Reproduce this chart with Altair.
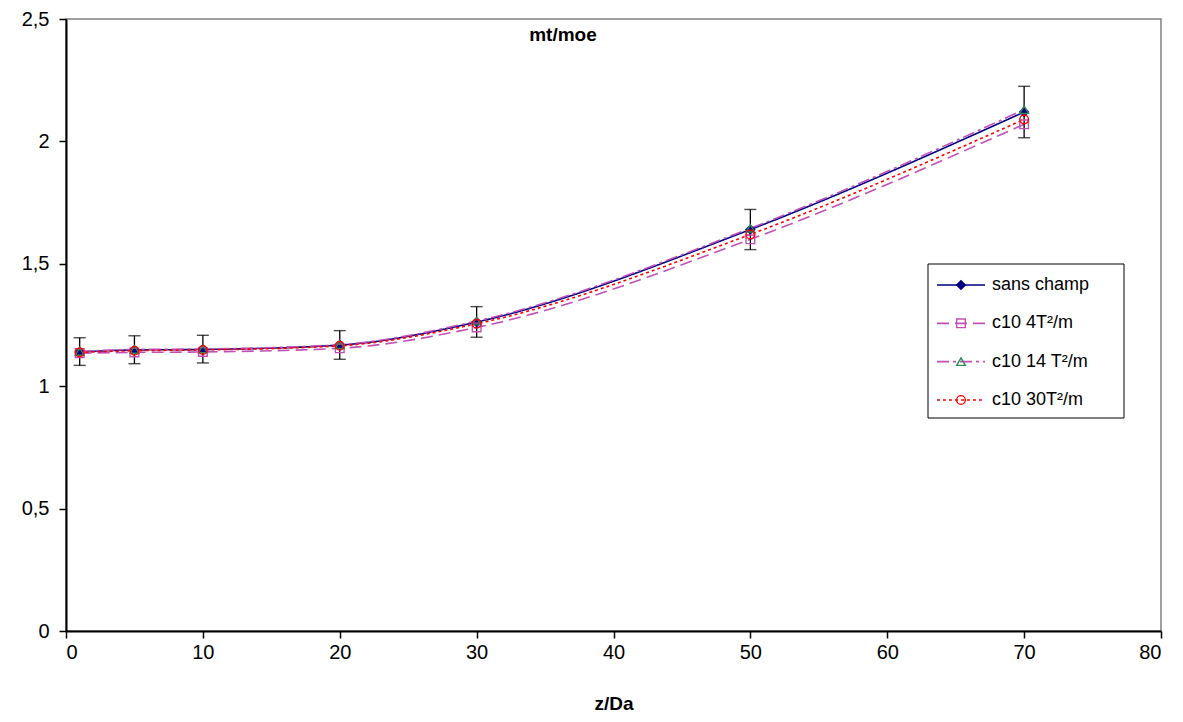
import altair as alt
import pandas as pd

# ---- data ----
z = [1, 5, 10, 20, 30, 50, 70]
series_names = ["sans champ", "c10 4T²/m", "c10 14 T²/m", "c10 30T²/m"]
sans_champ = [1.140, 1.148, 1.150, 1.168, 1.262, 1.640, 2.120]
c10_4T = [1.135, 1.138, 1.140, 1.155, 1.240, 1.600, 2.070]
c10_14T = [1.142, 1.150, 1.152, 1.170, 1.266, 1.645, 2.130]
c10_30T = [1.138, 1.145, 1.148, 1.165, 1.255, 1.620, 2.090]
err_low = [1.085, 1.092, 1.095, 1.110, 1.200, 1.558, 2.015]
err_high = [1.198, 1.206, 1.208, 1.227, 1.325, 1.722, 2.225]

y_ticks = [0, 0.5, 1, 1.5, 2, 2.5]
x_ticks = [0, 10, 20, 30, 40, 50, 60, 70, 80]

line_colors = ["#000080", "#C050B8", "#C050B8", "#FF0000"]
marker_colors = ["#000080", "#C050B8", "#2E8B57", "#FF0000"]
marker_fills = ["#000080", "transparent", "transparent", "transparent"]
shapes = ["diamond", "square", "triangle-up", "circle"]
dashes = [[1, 0], [12, 6], [12, 4, 3, 4], [3, 3]]

rows = []
for name, vals in zip(series_names, [sans_champ, c10_4T, c10_14T, c10_30T]):
    for xv, yv in zip(z, vals):
        rows.append({"series": name, "z": xv, "v": yv})
df = pd.DataFrame(rows)
err_df = pd.DataFrame({"z": z, "lo": err_low, "hi": err_high})
leg_df = pd.DataFrame({"series": series_names})

W, H = 1095, 612
FONT = "Liberation Sans"

xscale = alt.Scale(domain=[0, 80], nice=False)
yscale = alt.Scale(domain=[0, 2.5], nice=False)
col = alt.Color("series:N", scale=alt.Scale(domain=series_names, range=line_colors), legend=None)
dash = alt.StrokeDash("series:N", scale=alt.Scale(domain=series_names, range=dashes), legend=None)
mcol = alt.Stroke("series:N", scale=alt.Scale(domain=series_names, range=marker_colors), legend=None)
mfill = alt.Fill("series:N", scale=alt.Scale(domain=series_names, range=marker_fills), legend=None)
shp = alt.Shape("series:N", scale=alt.Scale(domain=series_names, range=shapes), legend=None)

base = alt.Chart(df)

X = alt.X("z:Q", scale=xscale, title="z/Da",
          axis=alt.Axis(values=x_ticks, grid=False, tickSize=7, labelPadding=4,
                        titlePadding=32, labelFontSize=20, titleFontSize=19,
                        titleFontWeight="bold"))
Y = alt.Y("v:Q", scale=yscale, title=None,
          axis=alt.Axis(values=y_ticks, grid=False, tickSize=7, labelPadding=10,
                        labelFontSize=20,
                        labelExpr="replace(format(datum.value, ''), '.', ',')"))

lines = base.mark_line(interpolate="monotone", strokeWidth=1.6).encode(
    x=X, y=Y, color=col, strokeDash=dash, detail="series:N")

ebars = alt.Chart(err_df).mark_rule(color="black", strokeWidth=1.3).encode(
    x=alt.X("z:Q", scale=xscale), y=alt.Y("lo:Q", scale=yscale), y2="hi:Q")
ecap_lo = alt.Chart(err_df).mark_tick(color="black", thickness=1.4, size=12, orient="horizontal").encode(
    x=alt.X("z:Q", scale=xscale), y=alt.Y("lo:Q", scale=yscale))
ecap_hi = alt.Chart(err_df).mark_tick(color="black", thickness=1.4, size=12, orient="horizontal").encode(
    x=alt.X("z:Q", scale=xscale), y=alt.Y("hi:Q", scale=yscale))

points = base.mark_point(size=75, strokeWidth=1.4, opacity=1).encode(
    x=alt.X("z:Q", scale=xscale), y=alt.Y("v:Q", scale=yscale),
    stroke=mcol, fill=mfill, shape=shp)

title = alt.Chart(pd.DataFrame({"t": ["mt/moe"]})).mark_text(
    font=FONT, fontSize=19, fontWeight="bold", color="black", baseline="middle").encode(
    x=alt.value(497), y=alt.value(16), text="t:N")

main = alt.layer(lines, ebars, ecap_lo, ecap_hi, points, title)

# ---- legend built as marks ----
LY = alt.Y("series:N", scale=alt.Scale(type="point", domain=series_names, range=[266, 381], padding=0), axis=None)
box = alt.Chart(pd.DataFrame({"a": [0]})).mark_rect(fill="white", stroke="black", strokeWidth=1).encode(
    x=alt.value(862), x2=alt.value(1058), y=alt.value(245), y2=alt.value(399))
leg_lines = alt.Chart(leg_df).mark_rule(strokeWidth=1.6).encode(
    x=alt.value(871), x2=alt.value(919), y=LY, color=col, strokeDash=dash)
leg_pts = alt.Chart(leg_df).mark_point(size=75, strokeWidth=1.4, opacity=1).encode(
    x=alt.value(895), y=LY, stroke=mcol, fill=mfill, shape=shp)
leg_txt = alt.Chart(leg_df).mark_text(font=FONT, fontSize=18, align="left", baseline="middle", color="black").encode(
    x=alt.value(926), y=LY, text="series:N")
legend = alt.layer(box, leg_lines, leg_pts, leg_txt)

chart = alt.layer(main, legend).resolve_scale(
    y="independent", color="independent", strokeDash="independent",
    shape="independent", fill="independent", stroke="independent"
).properties(
    width=W, height=H,
    autosize=alt.AutoSizeParams(type="none"),
    padding={"left": 58, "top": 11, "right": 14, "bottom": 90},
).configure_view(
    stroke="#808080", strokeWidth=1.5
).configure_axis(
    labelFont=FONT, titleFont=FONT, labelColor="black", titleColor="black",
    domainColor="black", domainWidth=2, tickColor="black", tickWidth=1.5
)

chart.save("out.html", embed_options={"renderer": "svg", "actions": False})
